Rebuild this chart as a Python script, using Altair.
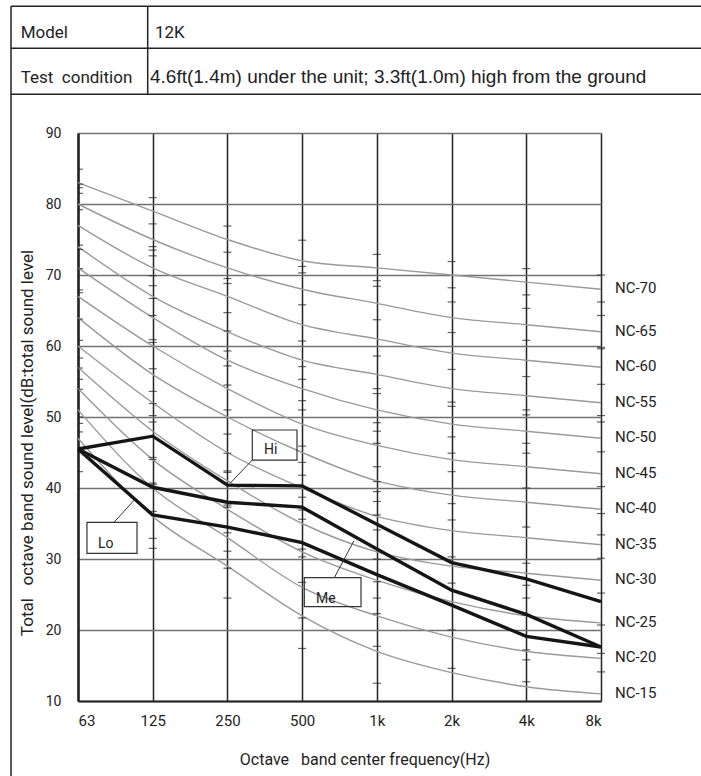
import altair as alt
import pandas as pd

# ---- values -------------------------------------------------------------
freq_labels = ["63", "125", "250", "500", "1k", "2k", "4k", "8k"]

nc_names = ["NC-15", "NC-20", "NC-25", "NC-30", "NC-35", "NC-40",
            "NC-45", "NC-50", "NC-55", "NC-60", "NC-65", "NC-70"]
nc_values = [
    [47, 36, 29, 22, 17, 14, 12, 11],
    [51, 40, 33, 26, 22, 19, 17, 16],
    [54, 44, 37, 31, 27, 24, 22, 21],
    [57, 48, 41, 35, 31, 29, 28, 27],
    [60, 52, 45, 40, 36, 34, 33, 32],
    [64, 56, 50, 45, 41, 39, 38, 37],
    [67, 60, 54, 49, 46, 44, 43, 42],
    [71, 64, 58, 54, 51, 49, 48, 47],
    [74, 67, 62, 58, 56, 54, 53, 52],
    [77, 71, 67, 63, 61, 59, 58, 57],
    [80, 75, 71, 68, 66, 64, 63, 62],
    [83, 79, 75, 72, 71, 70, 69, 68],
]

hi_db = [45.5, 47.3, 40.4, 40.3, 34.9, 29.5, 27.2, 24.0]
me_db = [45.5, 40.1, 38.0, 37.3, 31.4, 25.6, 22.2, 17.6]
lo_db = [45.5, 36.2, 34.5, 32.3, 27.8, 23.5, 19.1, 17.6]

# small scale marks along each octave line
marks_63 = [84.9, 82.8, 82.3, 81.5, 79.2, 74.2, 73.6, 70.9, 67.9, 67.5, 63.8,
            60.8, 58.3, 56.9, 55.3, 53.9, 50.0, 49.1, 47.9, 42.3]
marks_125 = [80.9, 77.2, 74.0, 73.5, 72.7, 69.9, 68.5, 66.7, 64.3, 60.9, 60.5,
             56.8, 53.6, 51.9, 50.2, 49.3, 44.3, 44.0, 40.7, 40.5, 36.7, 32.9, 31.5]
marks_250 = [76.9, 73.2, 69.5, 68.8, 64.7, 62.1, 59.3, 57.2, 54.5, 51.0, 47.6,
             44.9, 42.4, 42.2, 37.6, 37.3, 33.7, 31.1, 28.7, 24.5]
marks_500 = [74.9, 71.2, 70.3, 65.8, 60.7, 57.1, 55.3, 52.3, 51.0, 45.9, 43.6,
             41.8, 38.7, 36.9, 35.6, 31.4, 30.3, 26.7, 21.7, 17.4]
marks_1k = [72.9, 69.2, 68.4, 63.7, 58.6, 54.0, 53.3, 49.2, 48.0, 46.3, 43.0,
            40.9, 39.5, 38.1, 36.2, 34.1, 30.0, 26.8, 24.5, 22.3, 17.7, 12.5]
marks_2k = [71.9, 68.2, 66.2, 61.9, 56.7, 52.1, 51.5, 47.2, 44.9, 42.3, 37.8,
            35.5, 30.3, 26.6, 20.0, 14.6]
marks_4k = [70.9, 67.2, 65.3, 60.8, 55.7, 51.0, 50.3, 46.3, 44.9, 40.0, 34.5,
            29.4, 26.3, 24.5, 22.1, 17.2, 15.8, 12.7]
marks_8k = [70.0, 66.2, 64.3, 59.8, 59.6, 54.6, 50.2, 49.3, 45.1, 40.2, 36.4,
            33.4, 30.1, 25.2, 20.7, 16.7, 14.1]

# ---- tables ---------------------------------------------------------------
nc_df = pd.DataFrame(
    [{"idx": i, "db": v, "nc": name}
     for name, vals in zip(nc_names, nc_values) for i, v in enumerate(vals)]
)
nc_end = pd.DataFrame({"idx": [7] * len(nc_names),
                       "db": [vals[-1] for vals in nc_values],
                       "nc": nc_names})

modes_df = pd.DataFrame(
    [{"idx": i, "db": v, "mode": m}
     for m, vals in (("Hi", hi_db), ("Me", me_db), ("Lo", lo_db))
     for i, v in enumerate(vals)]
)

all_marks = [marks_63, marks_125, marks_250, marks_500,
             marks_1k, marks_2k, marks_4k, marks_8k]
marks_df = pd.DataFrame(
    [{"idx": i, "db": v} for i, vals in enumerate(all_marks) for v in vals]
)
marks_first = marks_df[marks_df["idx"] == 0]
marks_rest = marks_df[marks_df["idx"] > 0]

# callout boxes for the fan speed curves (x in octave steps, y in dB)
callouts = pd.DataFrame({
    "label": ["Hi", "Lo", "Me"],
    "x1": [2.333, 0.120, 3.029], "x2": [2.931, 0.790, 3.788],
    "y1": [43.94, 30.80, 23.28], "y2": [48.17, 35.17, 27.37],
    "tx": [2.49, 0.268, 3.186], "ty": [44.79, 31.59, 23.85],
    "lx1": [2.333, 0.482, 3.431], "ly1": [43.94, 35.17, 27.37],
    "lx2": [2.035, 0.754, 3.694], "ly2": [40.66, 38.31, 32.58],
})

W, H = 523, 568
DARK = "#222222"
FONT = "Roboto"

xs = alt.Scale(domain=[0, 7], nice=False, zero=False)
ys = alt.Scale(domain=[10, 90], nice=False, zero=False)
label_expr = "[" + ",".join(f"'{s}'" for s in freq_labels) + "][datum.value]"

X = alt.X("idx:Q", scale=xs, axis=alt.Axis(
    values=list(range(8)), labelExpr=label_expr, title=None,
    grid=True, gridColor=DARK, gridWidth=1.5, ticks=False,
    domainColor=DARK, domainWidth=2, labelPadding=12,
    labelFont=FONT, labelFontSize=15, labelColor=DARK))
Y = alt.Y("db:Q", scale=ys, axis=alt.Axis(
    values=list(range(10, 91, 10)), title=None,
    grid=True, gridColor="#707070", gridWidth=1.5, ticks=False,
    domainColor=DARK, domainWidth=2.5, labelPadding=17,
    labelFont=FONT, labelFontSize=14, labelColor=DARK))

nc_lines = alt.Chart(nc_df).mark_line(
    color="#9a9a9a", strokeWidth=1.4, interpolate="monotone"
).encode(x=X, y=Y, detail="nc:N")

scale_marks = alt.Chart(marks_rest).mark_tick(
    orient="horizontal", size=8, thickness=1.2, color=DARK
).encode(x=alt.X("idx:Q", scale=xs), y=alt.Y("db:Q", scale=ys))
scale_marks_first = alt.Chart(marks_first).mark_tick(
    orient="horizontal", size=5, thickness=1.2, color=DARK, xOffset=2.5
).encode(x=alt.X("idx:Q", scale=xs), y=alt.Y("db:Q", scale=ys))

mode_lines = alt.Chart(modes_df).mark_line(
    color="#151515", strokeWidth=3.4
).encode(x=alt.X("idx:Q", scale=xs), y=alt.Y("db:Q", scale=ys), detail="mode:N")

nc_text = alt.Chart(nc_end).mark_text(
    align="left", baseline="middle", dx=14, dy=-1,
    font=FONT, fontSize=15, color=DARK
).encode(x=alt.X("idx:Q", scale=xs), y=alt.Y("db:Q", scale=ys), text="nc:N")

boxes = alt.Chart(callouts).mark_rect(
    fill="white", fillOpacity=0, stroke="#333333", strokeWidth=1.2
).encode(x=alt.X("x1:Q", scale=xs), x2="x2:Q",
         y=alt.Y("y1:Q", scale=ys), y2="y2:Q")
leaders = alt.Chart(callouts).mark_rule(color="#333333", strokeWidth=1).encode(
    x=alt.X("lx1:Q", scale=xs), x2="lx2:Q",
    y=alt.Y("ly1:Q", scale=ys), y2="ly2:Q")
box_text = alt.Chart(callouts).mark_text(
    align="left", baseline="alphabetic", font=FONT, fontSize=14, color=DARK
).encode(x=alt.X("tx:Q", scale=xs), y=alt.Y("ty:Q", scale=ys), text="label:N")

# ---- axis titles ------------------------------------------------------
one = pd.DataFrame({"k": [0]})
y_title = alt.Chart(one).mark_text(
    text="Total\u00a0\u00a0 octave band sound level(dB:total sound level",
    angle=270, align="center", baseline="alphabetic",
    font=FONT, fontSize=17, color=DARK
).encode(x=alt.value(-45), y=alt.value(310))
x_title = alt.Chart(one).mark_text(
    text="Octave\u00a0\u00a0 band center frequency(Hz)",
    align="center", baseline="alphabetic",
    font=FONT, fontSize=16, color=DARK
).encode(x=alt.value(287), y=alt.value(H + 64))

# ---- header table ---------------------------------------------------------
LINE = dict(color=DARK, strokeWidth=1.5)
t_top, t_mid, t_bot = -126.7, -84.7, -38.7
t_left, t_col, t_right = -67, 69.7, 623
table = [
    alt.Chart(one).mark_rule(**LINE).encode(
        x=alt.value(t_left), y=alt.value(t_top), y2=alt.value(643)),
    alt.Chart(one).mark_rule(**LINE).encode(
        x=alt.value(t_col), y=alt.value(t_top), y2=alt.value(t_bot)),
]
for yy in (t_top, t_mid, t_bot):
    table.append(alt.Chart(one).mark_rule(**LINE).encode(
        x=alt.value(t_left), x2=alt.value(t_right), y=alt.value(yy)))

cell_text = [
    ("Model", -57.3, -95, FONT, 17),
    ("12K", 77, -95, FONT, 17),
    ("Test\u00a0 condition", -57.3, -50.3, FONT, 17),
    ("4.6ft(1.4m) under the unit; 3.3ft(1.0m) high from the ground", 72, -50.3,
     "Liberation Sans", 19),
]
for txt, tx, ty, fnt, fs in cell_text:
    table.append(alt.Chart(one).mark_text(
        text=txt, align="left", baseline="alphabetic",
        font=fnt, fontSize=fs, color=DARK
    ).encode(x=alt.value(tx), y=alt.value(ty)))

chart = alt.layer(
    nc_lines, scale_marks, scale_marks_first, mode_lines, nc_text,
    boxes, leaders, box_text, y_title, x_title, *table
).properties(
    width=W, height=H,
    autosize=alt.AutoSizeParams(type="none"),
    padding={"left": 78, "top": 133, "right": 100, "bottom": 75},
    background="white",
).configure_view(strokeWidth=0)

chart.save("out.html", embed_options={"renderer": "svg", "actions": False})
